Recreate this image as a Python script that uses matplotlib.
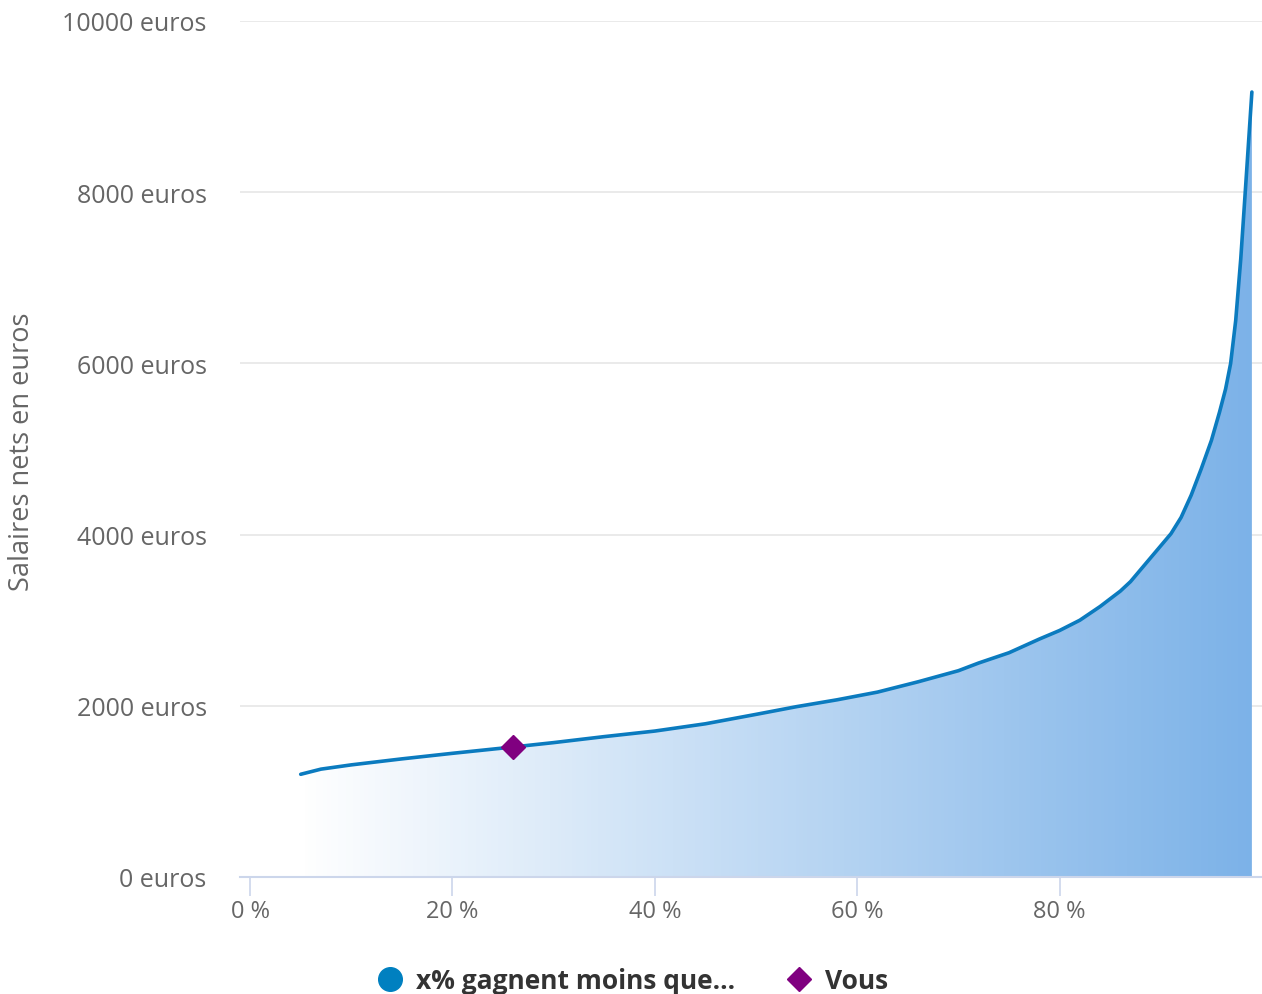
import numpy as np
import matplotlib.pyplot as plt
from matplotlib.lines import Line2D
from matplotlib.patches import Polygon

plt.rcParams['font.family'] = ['Open Sans', 'DejaVu Sans']

# percentiles (x) and net salary (y)
pct = [5, 7, 10, 15, 20, 26, 30, 35, 40, 45, 50, 54, 58, 62, 66, 70, 72, 75,
       78, 80, 82, 84, 86, 87, 88, 89, 90, 91, 92, 93, 94, 95, 95.8, 96.4,
       96.9, 97.4, 97.9, 98.4, 99]
salaire = [1200, 1260, 1310, 1380, 1445, 1519, 1570, 1640, 1705, 1790, 1900,
           1990, 2070, 2160, 2280, 2410, 2500, 2620, 2780, 2880, 3000, 3160,
           3340, 3450, 3590, 3730, 3870, 4010, 4200, 4460, 4770, 5100, 5430,
           5700, 6000, 6500, 7220, 8100, 9170]

vous_pct = [26]
vous_salaire = [1519]

y_ticks = [0, 2000, 4000, 6000, 8000, 10000]
x_ticks = [0, 20, 40, 60, 80]

line_color = '#0b7bbf'
fill_color = np.array([124, 178, 232]) / 255.0
text_color = '#666666'

fig = plt.figure(figsize=(12.62, 9.95), dpi=100)
ax = fig.add_axes([240 / 1262, 1 - 878 / 995, 1022 / 1262, (878 - 22) / 995])
ax.set_xlim(-1, 100)
ax.set_ylim(0, 10000)

# gradient fill under the curve, white on the left to blue on the right
grad = np.linspace(0, 1, 256)
img = np.ones((2, 256, 4))
for i in range(3):
    img[:, :, i] = 1 - grad * (1 - fill_color[i])
poly = Polygon(list(zip(pct, salaire)) + [(pct[-1], 0), (pct[0], 0)],
               closed=True, facecolor='none', edgecolor='none')
ax.add_patch(poly)
im = ax.imshow(img, extent=[pct[0], pct[-1], 0, 10000], aspect='auto',
               origin='lower', zorder=1)
im.set_clip_path(poly)

ax.plot(pct, salaire, color=line_color, lw=2.6, zorder=3,
        solid_capstyle='round', solid_joinstyle='round')
ax.plot(vous_pct, vous_salaire, marker='D', color='#800080', markersize=12,
        ls='none', zorder=4)

ax.set_yticks(y_ticks)
ax.set_yticklabels([f"{v} euros" for v in y_ticks])
ax.set_xticks(x_ticks)
ax.set_xticklabels([f"{v} %" for v in x_ticks])

ax.grid(axis='y', color='#e6e6e6', lw=1.2)
ax.set_axisbelow(True)
for s in ['top', 'right', 'left']:
    ax.spines[s].set_visible(False)
ax.spines['bottom'].set_color('#ccd6eb')
ax.spines['bottom'].set_linewidth(1.5)
ax.spines['bottom'].set_zorder(5)

ax.tick_params(axis='y', length=0, pad=24, labelsize=18, labelcolor=text_color)
ax.tick_params(axis='x', length=14, width=1.2, color='#ccd6eb', pad=2,
               labelsize=17, labelcolor=text_color)

fig.text(22 / 1262, 1 - 452 / 995, "Salaires nets en euros", rotation=90,
         ha='center', va='center', fontsize=19.5, color=text_color)

handles = [
    Line2D([], [], marker='o', color='#0080c0', ls='none', markersize=17),
    Line2D([], [], marker='D', color='#800080', ls='none', markersize=12),
]
fig.legend(handles, ["x% gagnent moins que...", "Vous"], loc='center',
           bbox_to_anchor=(631 / 1262, 1 - 982 / 995), ncol=2, frameon=False,
           handletextpad=0.4, columnspacing=1.8, handlelength=1.2,
           prop={'size': 19, 'weight': 'bold'}, labelcolor='#333333')

fig.savefig("out.png", dpi=100)
